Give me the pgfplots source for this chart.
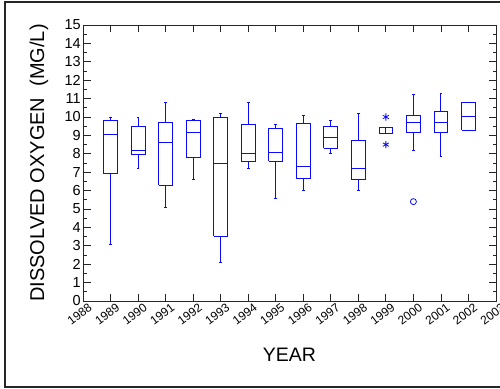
\documentclass[border=0pt]{standalone}
\usepackage{pgfplots}
\pgfplotsset{compat=1.18}
\usepackage{fontspec}
\setmainfont{Liberation Sans}
\definecolor{bx}{RGB}{10,10,255}
% #1 position, #2 lower whisker, #3 lower quartile, #4 median, #5 upper quartile, #6 upper whisker
\newcommand{\bpx}[6]{%
  \addplot[bx, line width=0.9pt] coordinates {({#1-0.25},#3) ({#1+0.25},#3) ({#1+0.25},#5) ({#1-0.25},#5) ({#1-0.25},#3)};
  \addplot[bx, line width=0.9pt] coordinates {({#1-0.25},#4) ({#1+0.25},#4)};
  \addplot[bx, line width=0.9pt] coordinates {(#1,#3) (#1,#2)};
  \addplot[bx, line width=0.9pt] coordinates {(#1,#5) (#1,#6)};
  \addplot[bx, line width=0.9pt] coordinates {({#1-0.05},#2) ({#1+0.05},#2)};
  \addplot[bx, line width=0.9pt] coordinates {({#1-0.05},#6) ({#1+0.05},#6)};
}
\begin{document}
\begin{tikzpicture}
\path[use as bounding box] (-83pt,-87pt) rectangle (417pt,301pt);
\begin{axis}[
  width=413pt, height=276pt, scale only axis,
  xmin=0, xmax=15, ymin=0, ymax=15,
  xtick={0,...,15}, ytick={0,...,15}, minor y tick num=1,
  xticklabels={1988,1989,1990,1991,1992,1993,1994,1995,1996,1997,1998,1999,2000,2001,2002,2003},
  /pgf/number format/assume math mode=true,
  tick align=inside,
  axis line style={black!85, line width=0.9pt},
  tick style={black!85, line width=0.8pt},
  major tick length=7.5pt, minor tick length=3.5pt,
  xticklabel style={rotate=37, anchor=north east, font=\fontsize{12}{12}\selectfont, inner sep=1pt, xshift=4pt, yshift=-3pt},
  yticklabel style={font=\fontsize{14.5}{14.5}\selectfont, inner sep=2pt},
  xlabel={YEAR},
  xlabel style={font=\fontsize{19.5}{20}\selectfont, at={(axis description cs:0.5,-0.196)}, anchor=center},
  ylabel={DISSOLVED OXYGEN\ \ (MG/L)},
  ylabel style={font=\fontsize{20}{20}\selectfont, at={(axis description cs:-0.1065,0.5)}, anchor=center},
  clip=false,
]
\bpx{1}{3.1}{6.92}{9.06}{9.8}{10.0}
\bpx{2}{7.19}{7.99}{8.19}{9.5}{10.0}
\bpx{3}{5.1}{6.3}{8.64}{9.69}{10.8}
\bpx{4}{6.6}{7.79}{9.18}{9.8}{9.89}
\bpx{5}{2.1}{3.51}{7.45}{10.0}{10.2}
\bpx{6}{7.19}{7.59}{8.04}{9.6}{10.8}
\bpx{7}{5.6}{7.59}{8.1}{9.4}{9.6}
\bpx{8}{6.0}{6.65}{7.3}{9.66}{10.1}
\bpx{9}{8.0}{8.3}{8.9}{9.49}{9.8}
\bpx{10}{6.0}{6.59}{7.19}{8.7}{10.2}
\bpx{11}{9.44}{9.09}{9.42}{9.44}{9.44}
\bpx{12}{8.2}{9.15}{9.69}{10.1}{11.2}
\bpx{13}{7.88}{9.15}{9.73}{10.29}{11.29}
\bpx{14}{9.29}{9.29}{10.05}{10.8}{10.8}
\addplot[bx, only marks, mark=asterisk, mark size=3.5pt, line width=0.8pt] coordinates {(11,10.0) (11,8.5)};
\addplot[bx, only marks, mark=o, mark size=3pt, line width=0.8pt] coordinates {(12,5.4)};
\end{axis}
\draw[black!85, line width=1.5pt] (420pt,299pt) -- (-78pt,299pt) -- (-78pt,-86pt) -- (420pt,-86pt);
\end{tikzpicture}
\end{document}
